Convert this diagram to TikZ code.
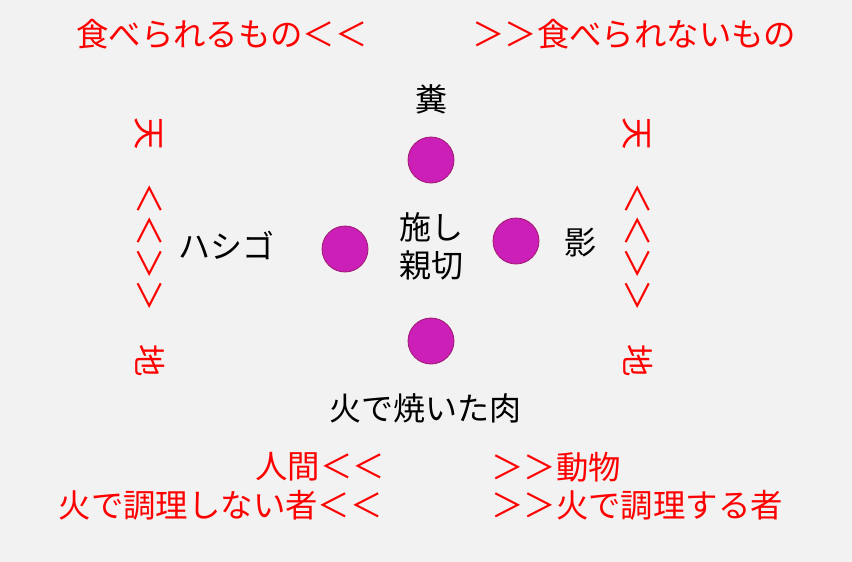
\documentclass[tikz,border=0pt]{standalone}
\usepackage{fontspec}
\setmainfont{Noto Sans CJK JP}
\definecolor{bg}{HTML}{F1F2F1}
\definecolor{dotfill}{HTML}{CC1FB8}
\definecolor{dotline}{HTML}{9E1A70}
\definecolor{redtxt}{HTML}{FF0000}
\tikzset{
  dot/.style={circle,fill=dotfill,draw=dotline,line width=0.8pt,minimum size=46pt,inner sep=0pt},
  blk/.style={text=black,font=\fontsize{32}{38}\selectfont,inner sep=0pt,align=center},
  red/.style={text=redtxt,font=\fontsize{32.4}{38}\selectfont,inner sep=0pt},
}
\begin{document}
\begin{tikzpicture}[x=1pt,y=-1pt]
\fill[bg] (0,0) rectangle (852,562);
\useasboundingbox (0,0) rectangle (852,562);
% dots
\node[dot] (dtop) at (431,160) {};
\node[dot] (dleft) at (345,249) {};
\node[dot] (dright) at (516,241) {};
\node[dot] (dbot) at (431,341) {};
% black labels
\node[blk] (kuso) at (431,99) {糞};
\node[blk] (center) at (431,246) {施し\\親切};
\node[blk] (hashigo) at (226,245) {ハシゴ};
\node[blk] (kage) at (580,243) {影};
\node[blk] (niku) at (425,408) {火で焼いた肉};
% red labels
\node[red,anchor=east] (tl) at (368,34) {食べられるもの＜＜};
\node[red,anchor=west] (tr) at (472,34) {＞＞食べられないもの};
\node[red,anchor=east] (ml) at (385,467) {人間＜＜};
\node[red,anchor=west] (mr) at (491,467) {＞＞動物};
\node[red,anchor=east] (bl) at (383,505) {火で調理しない者＜＜};
\node[red,anchor=west] (br) at (491,505) {＞＞火で調理する者};
% vertical columns
\node[red,rotate=-90] (colL) at (150,247) {天　＜＜＞＞　地};
\node[red,rotate=-90] (colR) at (638,247) {天　＜＜＞＞　地};
\end{tikzpicture}
\end{document}
